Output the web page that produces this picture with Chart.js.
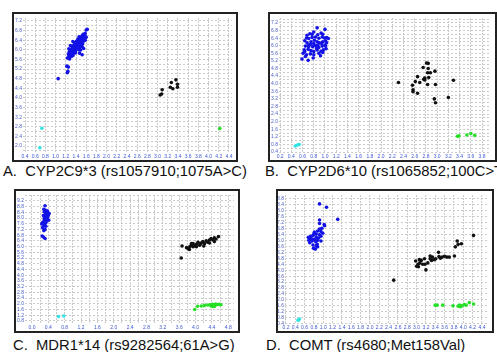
<!DOCTYPE html>
<html>
<head>
<meta charset="utf-8">
<script src="https://cdn.jsdelivr.net/npm/chart.js@4.4.1/dist/chart.umd.min.js"></script>
<style>
  body { margin: 0; background: #fff; width: 497px; height: 352px; overflow: hidden; position: relative;
         font-family: "Liberation Sans", Arial, sans-serif; }
  .box { position: absolute; border: 2px solid #222; box-sizing: border-box; background: #fff; }
  .box canvas { display: block; }
  .cap { position: absolute; font-size: 14.8px; white-space: nowrap; color: #111; line-height: 17px; }
</style>
</head>
<body>
<div class="box" style="left:12px;top:12px;width:226px;height:150px"><canvas id="chartA"></canvas></div>
<div class="box" style="left:268px;top:12px;width:229px;height:150px"><canvas id="chartB"></canvas></div>
<div class="box" style="left:14px;top:189px;width:226px;height:144px"><canvas id="chartC"></canvas></div>
<div class="box" style="left:276px;top:189px;width:218px;height:144px"><canvas id="chartD"></canvas></div>
<div class="cap" style="left:3px;top:163px">A.&nbsp;&nbsp;CYP2C9*3 (rs1057910;1075A&gt;C)</div>
<div class="cap" style="left:265px;top:163px">B.&nbsp;&nbsp;CYP2D6*10 (rs1065852;100C&gt;T)</div>
<div class="cap" style="left:13px;top:337px">C.&nbsp;&nbsp;MDR1*14 (rs9282564;61A&gt;G)</div>
<div class="cap" style="left:266px;top:337px">D.&nbsp;&nbsp;COMT (rs4680;Met158Val)</div>
<script>
// ---------- panel A : CYP2C9*3 ----------
const aXLabels = ["0.4","0.6","0.8","1.0","1.2","1.4","1.6","1.8","2.0","2.2","2.4","2.6","2.8","3.0","3.2","3.4","3.6","3.8","4.0","4.2","4.4"];
const aYLabels = ["2.0","2.4","2.8","3.2","3.6","4.0","4.4","4.8","5.2","5.6","6.0","6.4","6.8","7.2"];
const aBlue = [[1.62,6.85],[1.60,6.82],[1.54,6.64],[1.57,6.60],[1.52,6.58],[1.46,6.54],[1.50,6.52],[1.49,6.47],
  [1.53,6.45],[1.43,6.40],[1.51,6.40],[1.47,6.42],[1.55,6.36],[1.39,6.29],[1.46,6.33],[1.42,6.32],[1.50,6.30],
  [1.36,6.20],[1.43,6.24],[1.40,6.22],[1.47,6.21],[1.53,6.25],[1.33,6.13],[1.39,6.13],[1.36,6.16],[1.44,6.15],
  [1.30,6.02],[1.36,6.02],[1.33,6.06],[1.41,6.08],[1.38,6.04],[1.27,5.93],[1.33,5.93],[1.30,5.96],[1.37,5.97],
  [1.25,5.83],[1.30,5.79],[1.36,5.86],[1.28,5.86],[1.33,5.82],[1.52,6.13],[1.49,5.99],[1.52,5.79],[1.45,6.05],
  [1.48,6.10],[1.26,5.75],[1.31,5.72],[1.35,5.90],[1.40,5.98],[1.42,6.18],[1.45,6.28],[1.48,6.36],[1.38,6.26],
  [1.35,6.10],[1.32,6.00],[1.29,5.90],[1.41,6.35],[1.44,6.45],[1.56,6.50],[1.58,6.68],[1.23,5.66],[1.27,5.62],
  [1.22,5.32],[1.25,5.28],[1.23,5.05],[1.24,5.10],[1.05,4.80],[1.34,5.76],[1.39,5.88],[1.46,6.00],[1.50,6.18],
  [1.43,6.12],[1.37,6.08],[1.31,5.85],[1.28,5.70],[1.58,6.40],[1.34,6.34],[1.29,6.18],[1.55,6.05],[1.47,5.86],
  [1.26,6.04],[1.60,6.52]];
const aBlack = [[3.05,4.12],[3.08,4.16],[3.09,4.34],[3.25,4.44],[3.27,4.64],[3.36,4.75],[3.39,4.57],[3.30,4.38],[3.39,4.44]];
const aCyan = [[0.73,2.74],[0.69,1.93]];
const aGreen = [[4.22,2.73]];

// ---------- panel B : CYP2D6*10 ----------
const bXLabels = ["0.2","0.4","0.6","0.8","1.0","1.2","1.4","1.6","1.8","2.0","2.2","2.4","2.6","2.8","3.0","3.2","3.4","3.6","3.8"];
const bYLabels = ["0.4","0.8","1.2","1.6","2.0","2.4","2.8","3.2","3.6","4.0","4.4","4.8","5.2","5.6","6.0","6.4","6.8","7.2"];
const bBlue = [[0.86,6.94],[1.00,6.86],[0.73,6.63],[0.80,6.72],[0.93,6.67],[0.96,6.60],[0.67,6.41],[0.71,6.38],
  [0.77,6.43],[0.83,6.46],[0.89,6.39],[0.95,6.46],[0.99,6.41],[1.03,6.43],[1.06,6.38],[0.64,6.26],[0.68,6.15],
  [0.75,6.21],[0.80,6.12],[0.86,6.21],[0.90,6.15],[0.96,6.21],[1.01,6.26],[0.65,5.98],[0.71,6.03],[0.78,5.95],
  [0.83,6.00],[0.89,5.91],[0.95,5.98],[1.00,6.03],[0.63,5.78],[0.70,5.81],[0.75,5.74],[0.80,5.69],[0.86,5.78],
  [0.93,5.71],[0.97,5.78],[1.02,5.84],[0.61,5.60],[0.67,5.52],[0.74,5.57],[0.80,5.52],[0.89,5.60],[0.96,5.64],
  [0.59,5.30],[0.70,5.23],[0.65,5.43],[0.71,5.95],[0.81,6.29],[0.87,6.58],[0.94,6.12],[1.03,6.15],[0.68,6.55],
  [0.77,6.60],[0.85,5.86],[0.92,5.47],[0.79,5.35],[0.64,5.69],[1.01,5.98],[0.87,6.03],[0.74,6.08]];
const bBlack = [[2.31,4.06],[2.56,3.92],[2.57,3.68],[2.57,3.58],[2.65,3.50],[2.61,4.11],[2.65,4.37],[2.69,4.06],
  [2.75,4.85],[2.76,4.23],[2.78,4.30],[2.81,5.09],[2.84,5.07],[2.84,4.80],[2.83,4.58],[2.88,4.58],[2.83,3.96],
  [2.85,4.32],[2.96,4.66],[2.97,3.96],[2.95,3.20],[2.97,3.00],[3.20,3.27],[3.29,4.18],[2.78,4.20]];
const bCyan = [[0.47,0.72],[0.51,0.77],[0.54,0.80]];
const bGreen = [[3.36,1.23],[3.39,1.25],[3.53,1.30],[3.60,1.38],[3.67,1.28]];

// ---------- panel C : MDR1*14 ----------
const cXLabels = ["0.0","0.4","0.8","1.2","1.6","2.0","2.4","2.8","3.2","3.6","4.0","4.4","4.8"];
const cYLabels = ["0.8","1.2","1.6","2.0","2.4","2.8","3.2","3.6","4.0","4.4","4.8","5.2","5.6","6.0","6.4","6.8","7.2","7.6","8.0","8.4","8.8","9.2"];
const cBlue = [[0.32,8.86],[0.29,8.61],[0.34,8.54],[0.38,8.48],[0.30,8.44],[0.37,8.37],[0.42,8.31],[0.33,8.27],
  [0.28,8.18],[0.40,8.18],[0.34,8.12],[0.30,8.01],[0.37,7.97],[0.41,7.84],[0.26,7.69],[0.33,7.63],[0.24,7.59],
  [0.30,7.48],[0.34,7.42],[0.26,7.33],[0.32,7.20],[0.29,7.12],[0.25,6.74],[0.28,6.67],[0.32,6.57],[0.36,7.91],
  [0.38,8.05],[0.34,8.41],[0.39,8.27],[0.30,7.84],[0.35,7.74]];
const cBlack = [[3.65,5.21],[3.67,6.04],[3.82,5.85],[3.86,6.00],[3.90,6.10],[3.94,6.21],[3.98,6.06],[4.02,6.16],
  [4.06,6.31],[4.10,6.10],[4.14,6.25],[4.18,6.35],[4.22,6.21],[4.26,6.40],[4.30,6.31],[4.34,6.46],[4.38,6.57],
  [4.42,6.48],[4.46,6.61],[4.50,6.53],[4.56,6.70],[3.94,6.00],[3.85,5.80],[4.02,6.00],[4.12,6.21],[4.20,6.04],
  [3.90,6.21],[3.78,5.93],[4.34,6.25],[4.46,6.35]];
const cCyan = [[0.65,1.11],[0.78,1.15]];
const cGreen = [[3.98,1.60],[4.05,1.83],[4.14,1.85],[4.22,1.89],[4.30,1.92],[4.36,1.94],[4.41,1.96],[4.44,1.85],
  [4.46,1.94],[4.49,1.98],[4.52,1.94],[4.57,1.96],[4.62,1.94],[4.42,1.81],[4.38,1.85],[4.46,1.81]];

// ---------- panel D : COMT ----------
const dXLabels = ["0.2","0.4","0.6","0.8","1.0","1.2","1.4","1.6","1.8","2.0","2.2","2.4","2.6","2.8","3.0","3.2","3.4","3.6","3.8","4.0","4.2","4.4"];
const dYLabels = ["0.4","0.8","1.2","1.6","2.0","2.4","2.8","3.2","3.6","4.0","4.4","4.8","5.2","5.6","6.0","6.4","6.8","7.2","7.6","8.0","8.4","8.8"];
const dBlue = [[0.92,8.46],[1.07,8.24],[1.31,7.42],[0.92,7.38],[0.92,7.14],[1.02,7.08],[1.03,6.99],[0.97,6.82],
  [0.92,6.77],[0.88,6.64],[0.95,6.60],[0.81,6.56],[0.85,6.43],[0.92,6.39],[0.78,6.34],[0.73,6.28],[0.85,6.21],
  [0.71,6.17],[0.75,6.11],[0.81,6.06],[0.69,6.02],[0.88,6.02],[0.76,5.96],[0.95,5.96],[0.84,5.91],[0.71,5.85],
  [0.87,5.74],[0.78,5.70],[0.85,5.63],[0.79,5.48],[0.83,5.42],[0.88,5.57],[0.95,6.28],[0.99,6.49],[0.80,6.43],
  [0.73,6.13],[0.68,6.21],[0.90,6.17]];
const dBlack = [[2.51,3.33],[2.98,4.62],[3.03,4.40],[3.07,4.49],[3.00,4.27],[3.04,4.23],[3.10,4.66],[3.17,4.77],
  [3.18,4.40],[3.20,4.02],[3.24,4.49],[3.29,4.77],[3.34,4.88],[3.32,4.66],[3.38,4.71],[3.41,4.77],[3.47,5.20],
  [3.48,4.92],[3.51,4.81],[3.55,4.88],[3.60,4.94],[3.65,4.88],[3.70,4.88],[3.81,4.96],[3.83,5.57],[3.87,5.96],
  [3.89,5.74],[3.96,5.78],[4.22,6.34],[3.06,4.71],[3.13,4.40],[3.29,4.96]];
const dCyan = [[0.46,0.63],[0.49,0.72],[0.47,0.65]];
const dGreen = [[3.40,1.65],[3.44,1.65],[3.56,1.65],[3.78,1.60],[3.89,1.58],[3.92,1.65],[3.97,1.60],[4.02,1.69],
  [4.06,1.65],[4.13,1.82],[4.22,1.73],[3.94,1.54]];

const BLUE = "#1212e6", BLACK = "#111111", CYAN = "#30e2e2", GREEN = "#25e025";

function pts(arr) {
  return arr.map(p => ({ x: p[0], y: p[1] }));
}

function set(arr, color) {
  return { data: pts(arr), backgroundColor: color, borderWidth: 0, pointRadius: 1.8 };
}

// grid positions: every multiple of step inside [min, max]
function gridTicks(min, max, step) {
  const out = [];
  for (let k = Math.ceil(min / step - 1e-6); k * step <= max + 1e-6; k++) {
    out.push({ value: Math.round(k * step * 10) / 10 });
  }
  return out;
}

function drawPanel(id, groups, xr, yr, xLabels, yLabels, xStep, yStep, yWidth) {
  const label = list => v => {
    const s = Math.abs(v) < 1e-9 ? "0.0" : v.toFixed(1);
    return list.includes(s) ? s : "";
  };
  const grid = { color: "#cbcbcb", lineWidth: 1, drawTicks: false, tickLength: 0 };
  new Chart(document.getElementById(id), {
    type: "scatter",
    data: {
      datasets: [set(groups[0], BLACK), set(groups[1], BLUE), set(groups[2], CYAN), set(groups[3], GREEN)]
    },
    options: {
      responsive: true,
      maintainAspectRatio: false,
      animation: false,
      events: [],
      layout: { padding: 0 },
      plugins: { legend: { display: false }, tooltip: { enabled: false } },
      scales: {
        x: {
          type: "linear", min: xr[0], max: xr[1],
          border: { display: false, dash: [2, 1] },
          grid: grid,
          ticks: { autoSkip: false, maxRotation: 0, padding: 1,
                   color: "#3b56d0", font: { size: 5, family: "Liberation Sans" }, callback: label(xLabels) },
          afterBuildTicks: s => { s.ticks = gridTicks(xr[0], xr[1], xStep); },
          afterFit: s => { s.height = 7; }
        },
        y: {
          type: "linear", min: yr[0], max: yr[1],
          border: { display: false, dash: [2, 2] },
          grid: grid,
          ticks: { autoSkip: false, padding: 1,
                   color: "#4a5fc8", font: { size: 5, family: "Liberation Sans" }, callback: label(yLabels) },
          afterBuildTicks: s => { s.ticks = gridTicks(yr[0], yr[1], yStep); },
          afterFit: s => { s.width = yWidth; }
        }
      }
    }
  });
}

drawPanel("chartA", [aBlack, aBlue, aCyan, aGreen], [0.36, 4.46], [1.71, 7.32], aXLabels, aYLabels, 0.2, 0.2, 9);
drawPanel("chartB", [bBlack, bBlue, bCyan, bGreen], [0.18, 3.96], [0.35, 7.46], bXLabels, bYLabels, 0.2, 0.2, 9);
drawPanel("chartC", [cBlack, cBlue, cCyan, cGreen], [-0.17, 4.94], [0.59, 9.61], cXLabels, cYLabels, 0.2, 0.4, 9);
drawPanel("chartD", [dBlack, dBlue, dCyan, dGreen], [0.18, 4.53], [0.38, 9.06], dXLabels, dYLabels, 0.2, 0.4, 7);
</script>
</body>
</html>
